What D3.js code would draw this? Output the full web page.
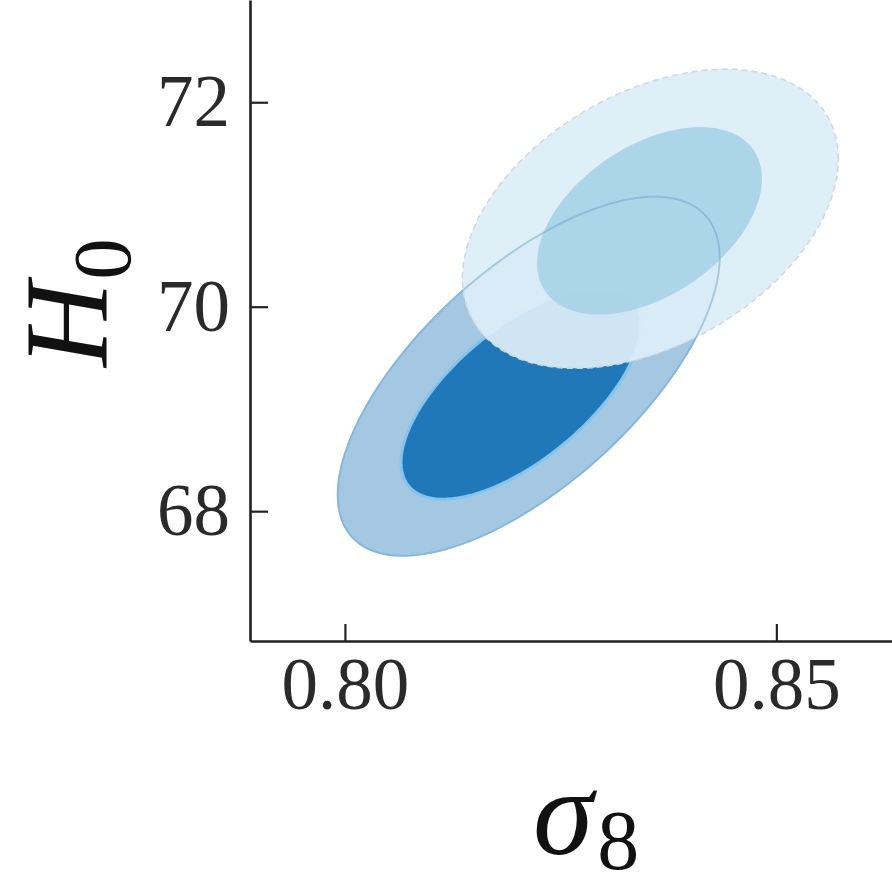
<!DOCTYPE html>
<html>
<head>
<meta charset="utf-8">
<script src="https://cdn.jsdelivr.net/npm/d3@7"></script>
<style>
  body { margin: 0; background: #fff; }
</style>
</head>
<body>
<div id="chart"></div>
<script>
// tick values
var sigma8Ticks = [0.80, 0.85];
var h0Ticks = [68, 70, 72];

// contours: [centre sigma8, centre H0, half-width sigma8, half-height H0, correlation]
var darkOuter = [0.8213, 69.32, 0.02213, 1.756, 0.66];
var darkInner = [0.8204, 69.151, 0.0139, 1.034, 0.65];
var lightOuter = [0.8354, 70.86, 0.02178, 1.463, 0.40];
var lightInner = [0.8353, 70.84, 0.01303, 0.917, 0.45];

var w = 892, h = 888;
var serif = "'Liberation Serif', 'Times New Roman', Times, serif";

var svg = d3.select("#chart")
  .append("svg")
  .attr("width", w)
  .attr("height", h);

// scales
var x = d3.scaleLinear()
  .domain([0.789, 0.8634])
  .range([250, 892]);

var y = d3.scaleLinear()
  .domain([66.73, 73.0])
  .range([641, 0]);

// turn a contour description into a closed ring of points
function ring(c) {
  var rho = c[4];
  return d3.range(0, 2 * Math.PI, Math.PI / 90).map(function(t) {
    return [c[0] + c[2] * Math.cos(t),
            c[1] + c[3] * (rho * Math.cos(t) + Math.sqrt(1 - rho * rho) * Math.sin(t))];
  });
}

var line = d3.line()
  .x(function(d) { return x(d[0]); })
  .y(function(d) { return y(d[1]); })
  .curve(d3.curveLinearClosed);

var plot = svg.append("g");

// dark set
plot.append("path")
  .attr("d", line(ring(darkOuter)))
  .attr("fill", "#a4c7e2")
  .attr("stroke", "#9ccdf0")
  .attr("stroke-width", 2);

plot.append("path")
  .attr("d", line(ring(darkInner)))
  .attr("fill", "#2078b8")
  .attr("stroke", "#86c3ee")
  .attr("stroke-width", 3);

// light set on top
plot.append("path")
  .attr("d", line(ring(lightOuter)))
  .attr("fill", "#ddeef8")
  .attr("fill-opacity", 0.93)
  .attr("stroke", "#cdd8e3")
  .attr("stroke-width", 1.5)
  .attr("stroke-dasharray", "6,4");

plot.append("path")
  .attr("d", line(ring(lightInner)))
  .attr("fill", "#a8d2e8")
  .attr("fill-opacity", 0.92);

// outline of dark outer contour seen through the light set
plot.append("path")
  .attr("d", line(ring(darkOuter)))
  .attr("fill", "none")
  .attr("stroke", "#6f9fc8")
  .attr("stroke-opacity", 0.5)
  .attr("stroke-width", 1.8);

// axes
var xAxis = svg.append("g")
  .attr("transform", "translate(0,641)")
  .call(d3.axisBottom(x).tickValues(sigma8Ticks)
    .tickFormat(d3.format(".2f"))
    .tickSizeInner(-17).tickSizeOuter(0).tickPadding(16));

var yAxis = svg.append("g")
  .attr("transform", "translate(250,0)")
  .call(d3.axisLeft(y).tickValues(h0Ticks)
    .tickFormat(d3.format("d"))
    .tickSizeInner(-18).tickSizeOuter(0).tickPadding(20));

[xAxis, yAxis].forEach(function(a) {
  a.attr("font-family", serif);
  a.select(".domain").attr("stroke", "#222").attr("stroke-width", 2.6);
  a.selectAll(".tick line").attr("stroke", "#222").attr("stroke-width", 2.2);
  a.selectAll(".tick text")
    .attr("fill", "#2a2a2a")
    .style("font-family", serif)
    .style("font-size", "73px");
});

// x axis label
var xl = svg.append("text")
  .attr("x", 533)
  .attr("y", 854)
  .attr("text-anchor", "start")
  .style("font-family", serif)
  .attr("fill", "#111");
xl.append("tspan").attr("font-style", "italic").style("font-size", "122px").text("σ");
xl.append("tspan").style("font-size", "84px").attr("dy", 15).attr("dx", 4).text("8");

// y axis label
var yl = svg.append("text")
  .attr("transform", "translate(106,367) rotate(-90)")
  .attr("text-anchor", "start")
  .style("font-family", serif)
  .attr("fill", "#111");
yl.append("tspan").attr("font-style", "italic").style("font-size", "118px").text("H");
yl.append("tspan").style("font-size", "83px").attr("dy", 24).attr("dx", 2).text("0");
</script>
</body>
</html>
